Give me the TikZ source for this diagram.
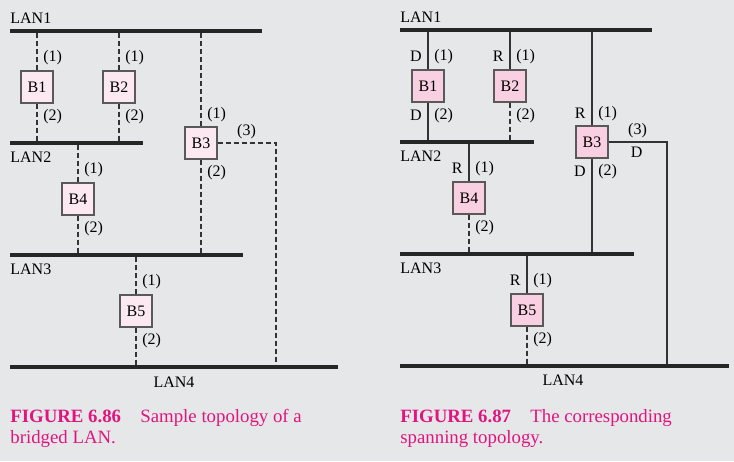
\documentclass[tikz,border=0pt]{standalone}
\usepackage{fontspec}
\setmainfont{Liberation Serif}
\usetikzlibrary{positioning}
\definecolor{pagegray}{HTML}{E6E7E9}
\definecolor{palepink}{HTML}{FCE8F0}
\definecolor{boxpink}{HTML}{F9D0E2}
\definecolor{capmagenta}{HTML}{E0157E}
\definecolor{edgegray}{HTML}{595959}

\begin{document}
\begin{tikzpicture}[x=0.5pt, y=-0.5pt, font=\fontsize{8}{9.6}\selectfont]
  \tikzset{
    bus/.style={line width=2pt, black!85},
    link/.style={line width=0.6pt, black!80},
    cut/.style={link, dash pattern=on 2.5pt off 1.5pt},
    bridge/.style={draw=edgegray, line width=0.55pt, minimum size=16pt, inner sep=0pt},
    port/.style={inner sep=0pt},
    lan/.style={inner sep=0pt, anchor=west},
    caption/.style={text=capmagenta, font=\fontsize{9.4}{11}\selectfont, inner sep=0pt, anchor=base west}
  }

  \fill[pagegray] (0,0) rectangle (734,461);

  % Sample topology (left)
  \coordinate (lL1w) at (10,31);  \coordinate (lL1e) at (262,31);
  \coordinate (lL2w) at (10,143); \coordinate (lL2e) at (143,143);
  \coordinate (lL3w) at (10,255); \coordinate (lL3e) at (243,255);
  \coordinate (lL4w) at (10,367); \coordinate (lL4e) at (338,367);

  \node[bridge, fill=palepink] (lB1) at (37,87) {B1};
  \node[bridge, fill=palepink] (lB2) at (119,87) {B2};
  \node[bridge, fill=palepink] (lB3) at (201,143) {B3};
  \node[bridge, fill=palepink] (lB4) at (78,199) {B4};
  \node[bridge, fill=palepink] (lB5) at (136,311) {B5};
  \coordinate (lC3) at (276,143);

  \draw[cut] (lB1.north) -- (lB1 |- lL1w);
  \draw[cut] (lB1.south) -- (lB1 |- lL2w);
  \draw[cut] (lB2.north) -- (lB2 |- lL1w);
  \draw[cut] (lB2.south) -- (lB2 |- lL2w);
  \draw[cut] (lB3.north) -- (lB3 |- lL1w);
  \draw[cut] (lB3.south) -- (lB3 |- lL3w);
  \draw[cut] (lB3.east) -- (lC3) -- (lC3 |- lL4w);
  \draw[cut] (lB4.north) -- (lB4 |- lL2w);
  \draw[cut] (lB4.south) -- (lB4 |- lL3w);
  \draw[cut] (lB5.north) -- (lB5 |- lL3w);
  \draw[cut] (lB5.south) -- (lB5 |- lL4w);

  \draw[bus] (lL1w) -- (lL1e);
  \draw[bus] (lL2w) -- (lL2e);
  \draw[bus] (lL3w) -- (lL3e);
  \draw[bus] (lL4w) -- (lL4e);

  \node[lan] (lN1) at (10,18) {LAN1};
  \node[lan] (lN2) at (10,157) {LAN2};
  \node[lan] (lN3) at (10,269) {LAN3};
  \node[port] (lN4) at (174,382) {LAN4};

  \node[port, anchor=west] (lP11) at ([shift={(6,-13)}]lB1.north) {(1)};
  \node[port, anchor=west] (lP12) at ([shift={(6,13)}]lB1.south) {(2)};
  \node[port, anchor=west] (lP21) at ([shift={(6,-13)}]lB2.north) {(1)};
  \node[port, anchor=west] (lP22) at ([shift={(6,13)}]lB2.south) {(2)};
  \node[port, anchor=west] (lP31) at ([shift={(6,-12)}]lB3.north) {(1)};
  \node[port, anchor=west] (lP32) at ([shift={(6,13)}]lB3.south) {(2)};
  \node[port] (lP33) at ([shift={(29,-11)}]lB3.east) {(3)};
  \node[port, anchor=west] (lP41) at ([shift={(6,-13)}]lB4.north) {(1)};
  \node[port, anchor=west] (lP42) at ([shift={(6,13)}]lB4.south) {(2)};
  \node[port, anchor=west] (lP51) at ([shift={(6,-13)}]lB5.north) {(1)};
  \node[port, anchor=west] (lP52) at ([shift={(6,13)}]lB5.south) {(2)};

  \node[caption] (lCap1) at (10,422) {\bfseries FIGURE 6.86};
  \node[caption] (lCap2) at (140,422) {Sample topology of a};
  \node[caption] (lCap3) at (10,443) {bridged LAN.};

  % Spanning topology (right)
  \coordinate (rL1w) at (400,30);  \coordinate (rL1e) at (652,30);
  \coordinate (rL2w) at (400,142); \coordinate (rL2e) at (534,142);
  \coordinate (rL3w) at (400,254); \coordinate (rL3e) at (634,254);
  \coordinate (rL4w) at (400,366); \coordinate (rL4e) at (729,366);

  \node[bridge, fill=boxpink] (rB1) at (428,86) {B1};
  \node[bridge, fill=boxpink] (rB2) at (510,86) {B2};
  \node[bridge, fill=boxpink] (rB3) at (592,142) {B3};
  \node[bridge, fill=boxpink] (rB4) at (469,198) {B4};
  \node[bridge, fill=boxpink] (rB5) at (527,310) {B5};
  \coordinate (rC3) at (667,142);

  \draw[link] (rB1.north) -- (rB1 |- rL1w);
  \draw[link] (rB1.south) -- (rB1 |- rL2w);
  \draw[link] (rB2.north) -- (rB2 |- rL1w);
  \draw[cut]  (rB2.south) -- (rB2 |- rL2w);
  \draw[link] (rB3.north) -- (rB3 |- rL1w);
  \draw[link] (rB3.south) -- (rB3 |- rL3w);
  \draw[link] (rB3.east) -- (rC3) -- (rC3 |- rL4w);
  \draw[link] (rB4.north) -- (rB4 |- rL2w);
  \draw[cut]  (rB4.south) -- (rB4 |- rL3w);
  \draw[link] (rB5.north) -- (rB5 |- rL3w);
  \draw[cut]  (rB5.south) -- (rB5 |- rL4w);

  \draw[bus] (rL1w) -- (rL1e);
  \draw[bus] (rL2w) -- (rL2e);
  \draw[bus] (rL3w) -- (rL3e);
  \draw[bus] (rL4w) -- (rL4e);

  \node[lan] (rN1) at (400,17) {LAN1};
  \node[lan] (rN2) at (400,156) {LAN2};
  \node[lan] (rN3) at (400,268) {LAN3};
  \node[port] (rN4) at (563,380) {LAN4};

  \node[port, anchor=west] (rP11) at ([shift={(6,-13)}]rB1.north) {(1)};
  \node[port, anchor=east] (rS11) at ([shift={(-6,-13)}]rB1.north) {D};
  \node[port, anchor=west] (rP12) at ([shift={(6,13)}]rB1.south) {(2)};
  \node[port, anchor=east] (rS12) at ([shift={(-6,13)}]rB1.south) {D};
  \node[port, anchor=west] (rP21) at ([shift={(6,-13)}]rB2.north) {(1)};
  \node[port, anchor=east] (rS21) at ([shift={(-6,-13)}]rB2.north) {R};
  \node[port, anchor=west] (rP22) at ([shift={(6,13)}]rB2.south) {(2)};
  \node[port, anchor=west] (rP31) at ([shift={(6,-12)}]rB3.north) {(1)};
  \node[port, anchor=east] (rS31) at ([shift={(-6,-12)}]rB3.north) {R};
  \node[port, anchor=west] (rP32) at ([shift={(6,13)}]rB3.south) {(2)};
  \node[port, anchor=east] (rS32) at ([shift={(-6,13)}]rB3.south) {D};
  \node[port] (rP33) at ([shift={(29,-11)}]rB3.east) {(3)};
  \node[port] (rS33) at ([shift={(28,10)}]rB3.east) {D};
  \node[port, anchor=west] (rP41) at ([shift={(6,-13)}]rB4.north) {(1)};
  \node[port, anchor=east] (rS41) at ([shift={(-6,-13)}]rB4.north) {R};
  \node[port, anchor=west] (rP42) at ([shift={(6,13)}]rB4.south) {(2)};
  \node[port, anchor=west] (rP51) at ([shift={(6,-13)}]rB5.north) {(1)};
  \node[port, anchor=east] (rS51) at ([shift={(-6,-13)}]rB5.north) {R};
  \node[port, anchor=west] (rP52) at ([shift={(6,13)}]rB5.south) {(2)};

  \node[caption] (rCap1) at (400,422) {\bfseries FIGURE 6.87};
  \node[caption] (rCap2) at (530,422) {The corresponding};
  \node[caption] (rCap3) at (400,443) {spanning topology.};
\end{tikzpicture}
\end{document}
